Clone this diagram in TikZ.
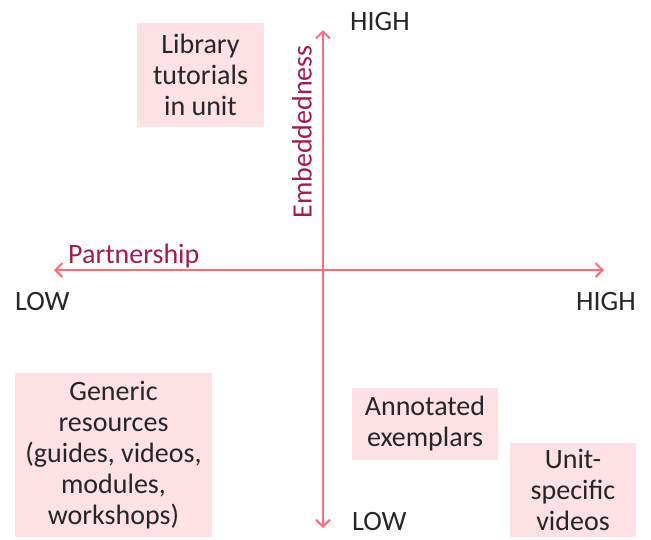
\documentclass[tikz,border=0pt]{standalone}
\usepackage{fontspec}
\setmainfont{Carlito}
\usetikzlibrary{arrows.meta}
\definecolor{axisred}{RGB}{246,112,120}
\definecolor{labred}{RGB}{160,28,78}
\definecolor{boxpink}{RGB}{253,225,228}
\begin{document}
\begin{tikzpicture}[x=1pt,y=-1pt,
  every node/.style={font=\fontsize{28}{31}\selectfont, inner sep=0pt},
  axis/.style={draw=axisred, line width=2.8pt, -{Straight Barb[length=7pt,width=14pt,line width=2pt]}},
  quad/.style={fill=boxpink, align=center, text=black!85},
  lab/.style={text=black!85},
  axlab/.style={text=labred}]
\useasboundingbox (0,0) rectangle (651,539);
% boxes
\node[quad, minimum width=127pt, minimum height=104pt] (lib) at (200.5,75) {Library\\tutorials\\in unit};
\node[quad, minimum width=197pt, minimum height=164pt] (gen) at (113.5,455) {Generic\\resources\\(guides, videos,\\modules,\\workshops)};
\node[quad, minimum width=146pt, minimum height=72pt] (ann) at (425,424) {Annotated\\exemplars};
\node[quad, minimum width=126pt, minimum height=94pt] (uni) at (573,490) {Unit-\\specific\\videos};
% axes
\coordinate (c) at (323,270);
\coordinate (top) at (323,30);
\coordinate (bot) at (323,528);
\coordinate (lft) at (54,270);
\coordinate (rgt) at (604,270);
\draw[axis] (c) -- (top);
\draw[axis] (c) -- (bot);
\draw[axis] (c) -- (lft);
\draw[axis] (c) -- (rgt);
% labels
\node[lab, anchor=west] (hightop) at (350,22) {HIGH};
\node[lab, anchor=west] (lowbot) at (352,522) {LOW};
\node[lab, anchor=west] (lowl) at (15,302) {LOW};
\node[lab, anchor=east] (highr) at (636,302) {HIGH};
\node[axlab, anchor=west] (part) at (68,256) {Partnership};
\node[axlab, rotate=90] (emb) at (302,132) {Embeddedness};
\end{tikzpicture}
\end{document}
